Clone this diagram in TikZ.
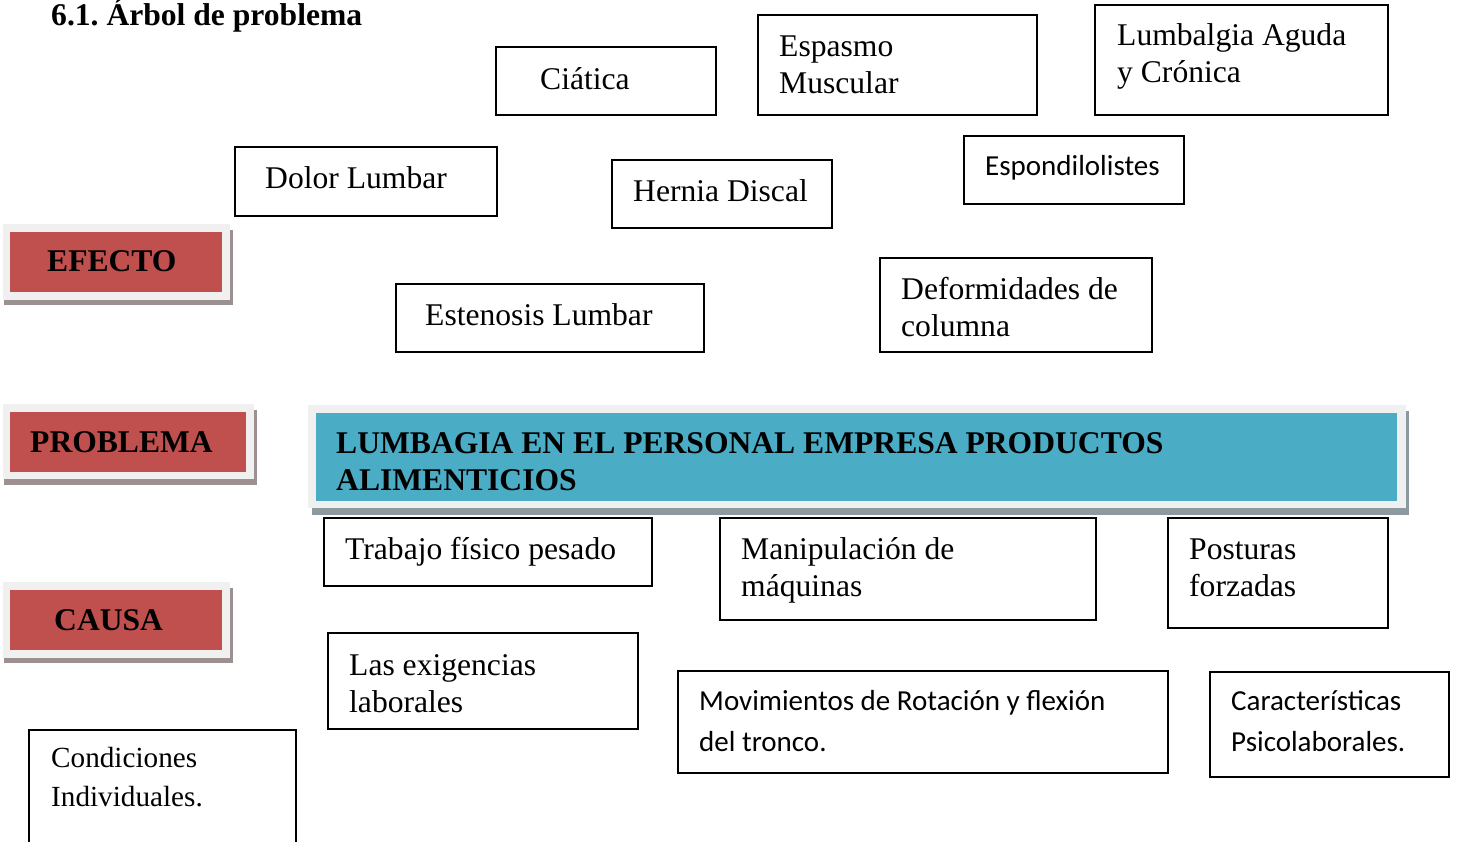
\documentclass[tikz,border=0pt]{standalone}
\usepackage{fontspec}
\setmainfont{Liberation Serif}
\newfontfamily\carlito{Carlito}
\usetikzlibrary{fit}
\frenchspacing
\definecolor{redfill}{HTML}{C0504D}
\definecolor{bluefill}{HTML}{4BACC6}
\definecolor{framegray}{HTML}{F0F0F0}
\definecolor{shadowred}{HTML}{9C9090}
\definecolor{shadowblue}{HTML}{8C9AA0}
\newcommand\tnr{\fontsize{31.6}{37}\selectfont}
\newcommand\tnrb{\fontsize{31.6}{37}\selectfont\bfseries}
\newcommand\cbr{\carlito\fontsize{29}{41}\selectfont}
\newcommand\two[2]{\parbox[t]{1000pt}{#1\\#2}}
\tikzset{
  box/.style={draw, line width=2pt, inner sep=0pt},
  txt/.style={anchor=base west, inner sep=0pt, font=\tnr},
  ctxt/.style={anchor=base west, inner sep=0pt, font=\cbr},
  btxt/.style={anchor=base west, inner sep=0pt, font=\tnrb},
  frm/.style={fill=framegray, inner sep=0pt},
  shr/.style={fill=shadowred, inner sep=0pt},
  shb/.style={fill=shadowblue, inner sep=0pt},
  redbox/.style={fill=redfill, inner sep=0pt},
  bluebox/.style={fill=bluefill, inner sep=0pt}
}
\begin{document}
\begin{tikzpicture}[x=1pt, y=-1pt]
\useasboundingbox (0,0) rectangle (1458,842);
% title
\node[btxt] (title) at (51,26) {6.1. Árbol de problema};
% label boxes
\node[shr, fit={(4,230)(233,305)}] (efecto-s) {};
\node[frm, fit={(3,224)(230,300)}] (efecto-f) {};
\node[redbox, fit={(10,232)(222,292)}] (efecto) {};
\node[btxt] (efecto-t) at (47,272) {EFECTO};

\node[shr, fit={(4,410)(257,485)}] (problema-s) {};
\node[frm, fit={(3,404)(254,479)}] (problema-f) {};
\node[redbox, fit={(10,412)(246,472)}] (problema) {};
\node[btxt] (problema-t) at (30,452) {PROBLEMA};

\node[shr, fit={(4,588)(233,663)}] (causa-s) {};
\node[frm, fit={(3,582)(230,658)}] (causa-f) {};
\node[redbox, fit={(10,590)(222,650)}] (causa) {};
\node[btxt] (causa-t) at (54,630) {CAUSA};

% main problem
\node[shb, fit={(312,411)(1409,515)}] (main-s) {};
\node[frm, fit={(308,405)(1406,508)}] (main-f) {};
\node[bluebox, fit={(316,413)(1397,501)}] (main) {};
\node[btxt] (main-t) at (336,453) {\two{LUMBAGIA EN EL PERSONAL EMPRESA PRODUCTOS}{ALIMENTICIOS}};

% effects
\node[box, fit={(496,47)(716,115)}] (ciatica) {};
\node[txt] (ciatica-t) at (540,90) {Ciática};
\node[box, fit={(758,15)(1037,115)}] (espasmo) {};
\node[txt] (espasmo-t) at (779,57) {\two{Espasmo}{Muscular}};
\node[box, fit={(1095,5)(1388,115)}] (lumbalgia) {};
\node[txt] (lumbalgia-t) at (1117,46) {\two{Lumbalgia Aguda}{y Crónica}};
\node[box, fit={(235,147)(497,216)}] (dolor) {};
\node[txt] (dolor-t) at (265,189) {Dolor Lumbar};
\node[box, fit={(612,160)(832,228)}] (hernia) {};
\node[txt] (hernia-t) at (633,202) {Hernia Discal};
\node[box, fit={(964,136)(1184,204)}] (espondilo) {};
\node[ctxt] (espondilo-t) at (985,176) {Espondilolistes};
\node[box, fit={(396,284)(704,352)}] (estenosis) {};
\node[txt] (estenosis-t) at (425,325) {Estenosis Lumbar};
\node[box, fit={(880,258)(1152,352)}] (deform) {};
\node[txt] (deform-t) at (901,299) {\two{Deformidades de}{columna}};

% causes
\node[box, fit={(324,518)(652,586)}] (trabajo) {};
\node[txt] (trabajo-t) at (345,559) {Trabajo físico pesado};
\node[box, fit={(720,518)(1096,620)}] (manip) {};
\node[txt] (manip-t) at (741,559) {\two{Manipulación de}{máquinas}};
\node[box, fit={(1168,518)(1388,628)}] (posturas) {};
\node[txt] (posturas-t) at (1189,559) {\two{Posturas}{forzadas}};
\node[box, fit={(328,633)(638,729)}] (exig) {};
\node[txt] (exig-t) at (349,675) {\two{Las exigencias}{laborales}};
\node[box, fit={(678,671)(1168,773)}] (movim) {};
\node[ctxt] (movim-t) at (699,710) {\two{Movimientos de Rotación y flexión}{del tronco.}};
\node[box, fit={(1210,672)(1449,777)}] (caract) {};
\node[ctxt] (caract-t) at (1231,710) {\two{Características}{Psicolaborales.}};
\node[box, fit={(29,730)(296,846)}] (cond) {};
\node[txt] (cond-t) at (51,767) {\parbox[t]{1000pt}{\fontsize{29.2}{39}\selectfont Condiciones\\Individuales.}};
\end{tikzpicture}
\end{document}
